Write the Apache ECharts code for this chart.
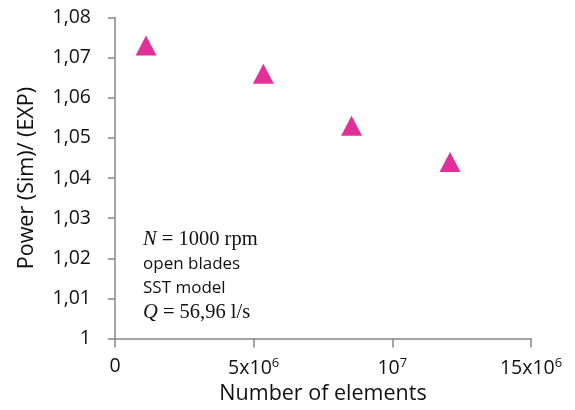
<!DOCTYPE html>
<html>
<head>
<meta charset="utf-8">
<script src="https://cdn.jsdelivr.net/npm/echarts@6/dist/echarts.min.js"></script>
<style>
  html, body { margin: 0; padding: 0; background: #ffffff; }
  #chart { width: 575px; height: 410px; }
</style>
</head>
<body>
<div id="chart"></div>
<script>
// Mesh size (number of elements) and simulated/experimental power ratio
const elementCounts = [1.12e6, 5.35e6, 8.53e6, 12.08e6];
const powerRatio = [1.073, 1.066, 1.053, 1.044];

// Axis tick labels
const xTickValues = [0, 5e6, 1e7, 15e6];
const xTickLabels = ['0', '5x10{sup|6}', '10{sup|7}', '15x10{sup|6}'];
const yTickValues = [1, 1.01, 1.02, 1.03, 1.04, 1.05, 1.06, 1.07, 1.08];
const yTickLabels = ['1', '1,01', '1,02', '1,03', '1,04', '1,05', '1,06', '1,07', '1,08'];

// Operating conditions shown inside the plot
const noteLines = [
  '{it|N} = 1000 rpm',
  '{sans|open blades}',
  '{sans|SST model}',
  '{it|Q} = 56,96 l/s'
];

const sansFont = 'Open Sans';
const axisGray = '#868686';
const markerColor = '#E2309A';

function lookup(values, labels, v) {
  for (let i = 0; i < values.length; i++) {
    if (Math.abs(values[i] - v) < 1e-9 * Math.max(1, Math.abs(v))) return labels[i];
  }
  return '';
}

const chart = echarts.init(document.getElementById('chart'), null, { renderer: 'canvas' });

chart.setOption({
  backgroundColor: '#ffffff',
  animation: false,
  grid: { left: 115, right: 44, top: 17.5, bottom: 67, containLabel: false },
  xAxis: {
    type: 'value',
    min: 0,
    max: 15e6,
    interval: 5e6,
    name: 'Number of elements',
    nameLocation: 'middle',
    nameGap: 43,
    nameTextStyle: { fontFamily: sansFont, fontSize: 21.5, color: '#111' },
    axisLine: { show: true, lineStyle: { color: axisGray, width: 1.5 } },
    axisTick: { show: true, inside: false, length: 9, lineStyle: { color: axisGray, width: 1.5 } },
    splitLine: { show: false },
    axisLabel: {
      margin: 18,
      fontFamily: sansFont,
      fontSize: 19.5,
      color: '#111',
      formatter: v => lookup(xTickValues, xTickLabels, v),
      rich: {
        sup: { fontFamily: sansFont, fontSize: 13, verticalAlign: 'top', padding: [0, 0, 10, 0], color: '#111' }
      }
    }
  },
  yAxis: {
    type: 'value',
    min: 1,
    max: 1.08,
    interval: 0.01,
    name: 'Power (Sim)/ (EXP)',
    nameLocation: 'middle',
    nameGap: 77,
    nameRotate: 90,
    nameTextStyle: { fontFamily: sansFont, fontSize: 21.5, color: '#111' },
    axisLine: { show: true, lineStyle: { color: axisGray, width: 1.5 } },
    axisTick: { show: true, inside: false, length: 7, lineStyle: { color: axisGray, width: 1.5 } },
    splitLine: { show: false },
    axisLabel: {
      margin: 24,
      fontFamily: sansFont,
      fontSize: 19.5,
      color: '#111',
      formatter: v => lookup(yTickValues, yTickLabels, v)
    }
  },
  series: [{
    type: 'scatter',
    data: elementCounts.map((x, i) => [x, powerRatio[i]]),
    symbol: 'triangle',
    symbolSize: [21, 20],
    itemStyle: { color: markerColor, opacity: 1 }
  }],
  graphic: [{
    type: 'text',
    left: 143,
    top: 227,
    style: {
      text: noteLines.join('\n'),
      fontFamily: 'Liberation Serif',
      fontSize: 20.5,
      lineHeight: 24.5,
      fill: '#111',
      rich: {
        it: { fontFamily: 'Liberation Serif', fontStyle: 'italic', fontSize: 20.5, lineHeight: 24.5, fill: '#111' },
        sans: { fontFamily: sansFont, fontSize: 17, lineHeight: 24.5, fill: '#111' }
      }
    }
  }]
});
</script>
</body>
</html>
